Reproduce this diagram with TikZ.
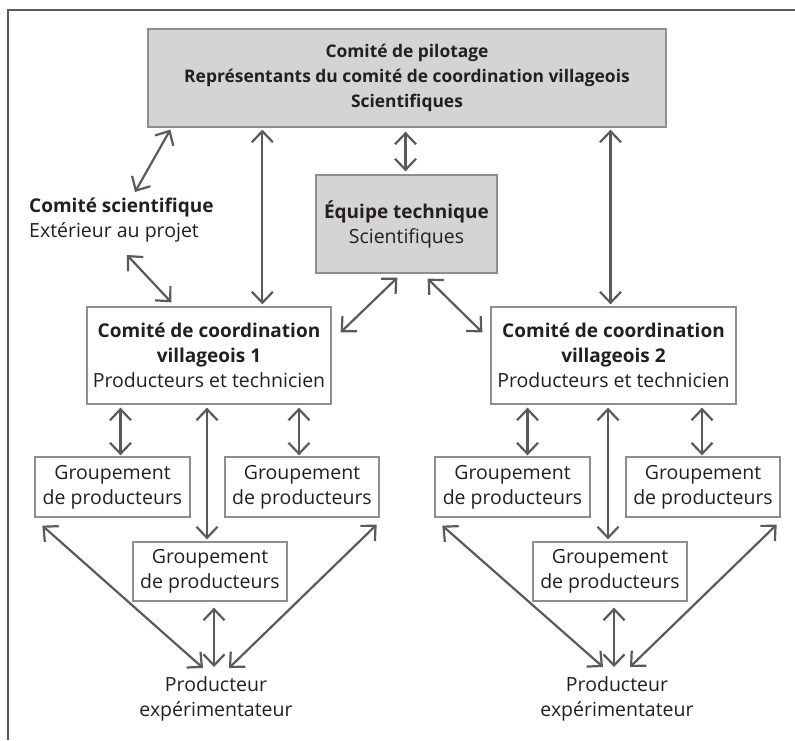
\documentclass[tikz,border=0pt]{standalone}
\usepackage{fontspec}
\setmainfont{Open Sans}
\usetikzlibrary{arrows.meta,calc}
\definecolor{linegray}{HTML}{5A5A5A}
\definecolor{boxgray}{HTML}{8E8E8E}
\definecolor{fillgray}{HTML}{D4D4D4}
\definecolor{txt}{HTML}{231F20}
\newcommand\bt[1]{{\fontsize{19}{25}\selectfont\bfseries #1}}
\newcommand\btt[1]{{\fontsize{17.4}{25}\selectfont\bfseries #1}}
\tikzset{
  box/.style={draw=boxgray, line width=1.3pt, inner sep=0pt, align=center, text=txt, font=\fontsize{19.5}{25}\selectfont},
  greybox/.style={box, fill=fillgray},
  label/.style={inner sep=0pt, align=center, text=txt, font=\fontsize{19.5}{25}\selectfont},
  arr/.style={draw=linegray, line width=2.2pt, {Straight Barb[length=11pt,width=21pt,line width=2.2pt]}-{Straight Barb[length=11pt,width=21pt,line width=2.2pt]}},
  frame/.style={draw=linegray, line width=1.6pt}
}
\begin{document}
\begin{tikzpicture}[x=1pt,y=-1pt]
\useasboundingbox (0,0) rectangle (795,740);
% frame
\coordinate (fa) at (795,10);
\coordinate (fb) at (8,10);
\coordinate (fc) at (8,740);
\draw[frame] (fa) -- (fb) -- (fc);
% nodes
\node[greybox, minimum width=518pt, minimum height=98pt] (top) at (407,78)
  {\btt{Comité de pilotage}\\\btt{Représentants du comité de coordination villageois}\\\btt{Scientifiques}};
\node[greybox, minimum width=181pt, minimum height=98pt] (eq) at (406.5,224)
  {\bt{Équipe technique}\\Scientifiques};
\node[label, anchor=north west, align=left] (cs) at (29,198)
  {\bt{Comité scientifique}\\Extérieur au projet};
\node[box, minimum width=244pt, minimum height=97pt] (c1) at (209,355.5)
  {\bt{Comité de coordination}\\\bt{villageois 1}\\Producteurs et technicien};
\node[box, minimum width=245pt, minimum height=97pt] (c2) at (613.5,355.5)
  {\bt{Comité de coordination}\\\bt{villageois 2}\\Producteurs et technicien};
\node[box, minimum width=155pt, minimum height=60pt] (gA) at (112.5,487) {Groupement\\de producteurs};
\node[box, minimum width=154pt, minimum height=60pt] (gB) at (302,487) {Groupement\\de producteurs};
\node[box, minimum width=154pt, minimum height=59pt] (gC) at (210,571.5) {Groupement\\de producteurs};
\node[box, minimum width=155pt, minimum height=60pt] (gD) at (512.5,487) {Groupement\\de producteurs};
\node[box, minimum width=154pt, minimum height=60pt] (gE) at (703,487) {Groupement\\de producteurs};
\node[box, minimum width=154pt, minimum height=59pt] (gF) at (610,571.5) {Groupement\\de producteurs};
\node[label, anchor=north] (pL) at (216,676) {Producteur\\expérimentateur};
\node[label, anchor=north] (pR) at (617,676) {Producteur\\expérimentateur};
% arrows top level
\draw[arr] ([shift={(23,2)}]top.south west) -- ([shift={(106,-6)}]cs.north west);
\draw[arr] ([shift={(115,2)}]top.south west) -- ([shift={(176,-2)}]c1.north west);
\draw[arr] ([shift={(-1,4)}]top.south -| eq.north) -- ([shift={(-1,-3)}]eq.north);
\draw[arr] ([shift={(-3,2)}]top.south -| c2.north) -- ([shift={(-3,-2)}]c2.north);
\draw[arr] ([shift={(98,57)}]cs.north west) -- ([shift={(85,-4)}]c1.north west);
\draw[arr] ([shift={(82,4)}]eq.south west) -- ([shift={(9,26)}]c1.north east);
\draw[arr] ([shift={(-70,5)}]eq.south east) -- ([shift={(-8,26)}]c2.north west);
% left group
\draw[arr] ([shift={(8,3)}]c1.south -| gA.north) -- ([shift={(8,-1)}]gA.north);
\draw[arr] ([shift={(-3,3)}]c1.south -| gC.north) -- ([shift={(-3,-2)}]gC.north);
\draw[arr] ([shift={(-3,3)}]c1.south -| gB.north) -- ([shift={(-3,-1)}]gB.north);
\draw[arr] ([shift={(8,8)}]gA.south west) -- ([shift={(-13,-8)}]pL.north);
\draw[arr] ([shift={(4,6)}]gC.south) -- ([shift={(-2,-9)}]pL.north);
\draw[arr] ([shift={(-3,7)}]gB.south east) -- ([shift={(13,-8)}]pL.north);
% right group
\draw[arr] ([shift={(15,3)}]c2.south -| gD.north) -- ([shift={(15,-1)}]gD.north);
\draw[arr] ([shift={(-2,3)}]c2.south -| gF.north) -- ([shift={(-2,-2)}]gF.north);
\draw[arr] ([shift={(-1,3)}]c2.south -| gE.north) -- ([shift={(-1,-1)}]gE.north);
\draw[arr] ([shift={(8,8)}]gD.south west) -- ([shift={(-14,-9)}]pR.north);
\draw[arr] ([shift={(4,6)}]gF.south) -- ([shift={(-3,-9)}]pR.north);
\draw[arr] ([shift={(-4,7)}]gE.south east) -- ([shift={(13,-9)}]pR.north);
\end{tikzpicture}
\end{document}
